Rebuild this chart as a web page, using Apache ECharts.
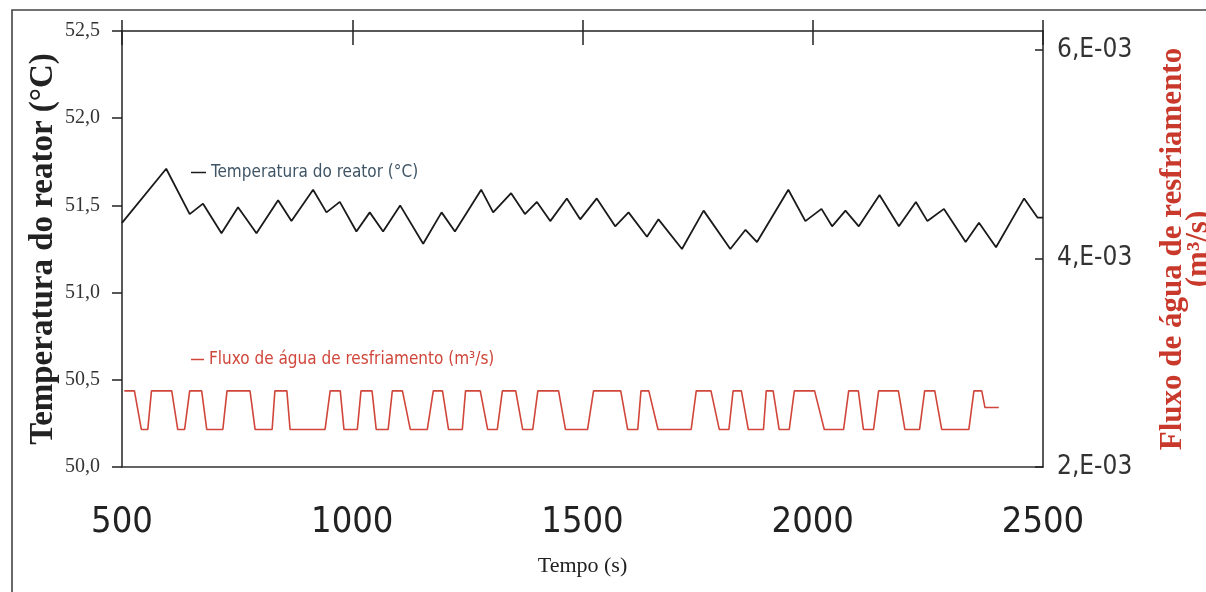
<!DOCTYPE html>
<html>
<head>
<meta charset="utf-8">
<title>Temperatura do reator</title>
<script src="https://cdn.jsdelivr.net/npm/echarts@6/dist/echarts.min.js"></script>
<style>
    html, body { margin: 0; padding: 0; background: #fff; }
    #chart { width: 1206px; height: 592px; }
</style>
</head>
<body>
<div id="chart"></div>
<script>
// temperatura do reator: tempo (s) e valor (°C), picos e vales
var tempTime = [500, 596, 647, 676, 716, 752, 792, 839, 868, 915, 944, 973, 1009, 1038, 1067, 1104,
    1154, 1194, 1223, 1280, 1306, 1345, 1375, 1401, 1430, 1466, 1495, 1531, 1571, 1600, 1640, 1665,
    1716, 1763, 1821, 1854, 1879, 1947, 1984, 2019, 2042, 2071, 2100, 2145, 2187, 2224, 2249, 2285,
    2332, 2361, 2398, 2459, 2488, 2500];
var tempValue = [51.40, 51.71, 51.45, 51.51, 51.34, 51.49, 51.34, 51.53, 51.41, 51.59, 51.46, 51.52, 51.35, 51.46, 51.35, 51.50,
    51.28, 51.46, 51.35, 51.59, 51.46, 51.57, 51.45, 51.52, 51.41, 51.54, 51.42, 51.54, 51.38, 51.46, 51.32, 51.42,
    51.25, 51.47, 51.25, 51.36, 51.29, 51.59, 51.41, 51.48, 51.38, 51.47, 51.38, 51.56, 51.38, 51.52, 51.41, 51.48,
    51.29, 51.40, 51.26, 51.54, 51.43, 51.43];

// fluxo de agua de resfriamento (m3/s)
var flowTime = [505, 527, 542, 556, 564, 608, 621, 636, 647, 673, 684, 719, 728, 778, 789, 826,
    832, 858, 865, 941, 952, 974, 982, 1011, 1019, 1043, 1052, 1078, 1087, 1109, 1126, 1163,
    1176, 1196, 1209, 1239, 1246, 1278, 1294, 1315, 1326, 1355, 1370, 1392, 1403, 1448, 1463, 1511,
    1524, 1583, 1598, 1620, 1627, 1644, 1664, 1736, 1747, 1779, 1797, 1818, 1827, 1845, 1860, 1893,
    1899, 1914, 1927, 1949, 1960, 2004, 2025, 2067, 2078, 2099, 2110, 2132, 2143, 2186, 2200, 2232,
    2243, 2265, 2280, 2339, 2350, 2367, 2374, 2404];
var flowValue = [0.00273, 0.00273, 0.00236, 0.00236, 0.00273, 0.00273, 0.00236, 0.00236, 0.00273, 0.00273, 0.00236, 0.00236, 0.00273, 0.00273, 0.00236, 0.00236,
    0.00273, 0.00273, 0.00236, 0.00236, 0.00273, 0.00273, 0.00236, 0.00236, 0.00273, 0.00273, 0.00236, 0.00236, 0.00273, 0.00273, 0.00236, 0.00236,
    0.00273, 0.00273, 0.00236, 0.00236, 0.00273, 0.00273, 0.00236, 0.00236, 0.00273, 0.00273, 0.00236, 0.00236, 0.00273, 0.00273, 0.00236, 0.00236,
    0.00273, 0.00273, 0.00236, 0.00236, 0.00273, 0.00273, 0.00236, 0.00236, 0.00273, 0.00273, 0.00236, 0.00236, 0.00273, 0.00273, 0.00236, 0.00236,
    0.00273, 0.00273, 0.00236, 0.00236, 0.00273, 0.00273, 0.00236, 0.00236, 0.00273, 0.00273, 0.00236, 0.00236, 0.00273, 0.00273, 0.00236, 0.00236,
    0.00273, 0.00273, 0.00236, 0.00236, 0.00273, 0.00273, 0.00257, 0.00257];

var xTicks = [500, 1000, 1500, 2000, 2500];
var leftTicks = [50.0, 50.5, 51.0, 51.5, 52.0, 52.5];
var rightTicks = [0.002, 0.004, 0.006];

var tempName = 'Temperatura do reator (°C)';
var flowName = 'Fluxo de água de resfriamento (m³/s)';

var narrow = "'Liberation Sans Narrow', 'Arial Narrow', 'DejaVu Sans Condensed', 'Liberation Sans', sans-serif";
var serif = "'Liberation Serif', 'DejaVu Serif', serif";

function pairs(xs, ys) {
    var out = [];
    for (var i = 0; i < xs.length; i++) {
        out.push([xs[i], ys[i]]);
    }
    return out;
}

var myChart = echarts.init(document.getElementById('chart'));

var option = {
    animation: false,
    backgroundColor: '#fff',
    grid: { left: 122, right: 163, top: 31, bottom: 125, outerBoundsMode: 'none', containLabel: false },
    graphic: [{
        // moldura externa da figura
        type: 'rect',
        silent: true,
        shape: { x: 12, y: 10, width: 1400, height: 800 },
        style: { fill: 'none', stroke: '#444', lineWidth: 1.6 }
    }],
    legend: [{
        data: [tempName],
        left: 186, top: 159,
        icon: 'rect', itemWidth: 15, itemHeight: 1.5,
        selectedMode: false,
        textStyle: { fontFamily: narrow, fontSize: 17, color: '#3f5566' }
    }, {
        data: [flowName],
        left: 186, top: 346,
        icon: 'rect', itemWidth: 13, itemHeight: 1.5,
        selectedMode: false,
        textStyle: { fontFamily: narrow, fontSize: 17, color: '#d0463a' }
    }],
    xAxis: [{
        type: 'value',
        position: 'bottom',
        min: xTicks[0], max: xTicks[xTicks.length - 1], interval: 500,
        axisLine: { lineStyle: { color: '#333', width: 1.5 } },
        axisTick: { show: false },
        splitLine: { show: false },
        axisLabel: {
            margin: 38, fontFamily: narrow, fontSize: 36, color: '#222',
            formatter: function (v) { return String(v); }
        },
        name: 'Tempo (s)',
        nameLocation: 'middle',
        nameGap: 88,
        nameMoveOverlap: false,
        nameTextStyle: { fontFamily: serif, fontSize: 22, color: '#222' }
    }, {
        type: 'value',
        position: 'top',
        min: xTicks[0], max: xTicks[xTicks.length - 1], interval: 500,
        axisLine: { lineStyle: { color: '#222', width: 1.5 } },
        axisTick: { length: 11, lineStyle: { color: '#222', width: 1.5 } },
        axisLabel: { show: false },
        splitLine: { show: false }
    }, {
        type: 'value',
        position: 'top',
        min: xTicks[0], max: xTicks[xTicks.length - 1], interval: 500,
        axisLine: { show: false },
        axisTick: { inside: true, length: 14, lineStyle: { color: '#222', width: 1.5 } },
        axisLabel: { show: false },
        splitLine: { show: false }
    }],
    yAxis: [{
        type: 'value',
        position: 'left',
        min: leftTicks[0], max: leftTicks[leftTicks.length - 1], interval: 0.5,
        axisLine: { show: true, lineStyle: { color: '#222', width: 1.5 } },
        axisTick: { show: true, length: 10, lineStyle: { color: '#222', width: 1.5 } },
        splitLine: { show: false },
        axisLabel: {
            margin: 22, fontFamily: serif, fontSize: 20, color: '#333',
            formatter: function (v) { return v.toFixed(1).replace('.', ','); }
        },
        name: 'Temperatura do reator (°C)',
        nameLocation: 'middle',
        nameRotate: 90,
        nameGap: 62,
        nameMoveOverlap: false,
        nameTextStyle: { fontFamily: serif, fontSize: 33, fontWeight: 'bold', color: '#222' }
    }, {
        type: 'value',
        position: 'right',
        min: rightTicks[0], max: 0.00618,
        axisLine: { show: true, lineStyle: { color: '#222', width: 1.5 } },
        axisTick: { show: true, inside: true, length: 8, customValues: rightTicks, lineStyle: { color: '#222', width: 1.5 } },
        splitLine: { show: false },
        axisLabel: {
            margin: 14, fontFamily: narrow, fontSize: 26, color: '#333',
            customValues: rightTicks,
            formatter: function (v) { return Math.round(v * 1000) + ',E-03'; }
        },
        name: 'Fluxo de água de resfriamento\n(m³/s)',
        nameLocation: 'middle',
        nameRotate: 90,
        nameGap: 117,
        nameMoveOverlap: false,
        nameTextStyle: { fontFamily: serif, fontSize: 31, fontWeight: 'bold', color: '#c8392b', lineHeight: 26, align: 'center' }
    }],
    series: [{
        name: tempName,
        type: 'line',
        xAxisIndex: 0, yAxisIndex: 0,
        showSymbol: false,
        color: '#1a1a1a',
        lineStyle: { color: '#1a1a1a', width: 1.8 },
        data: pairs(tempTime, tempValue)
    }, {
        name: flowName,
        type: 'line',
        xAxisIndex: 0, yAxisIndex: 1,
        showSymbol: false,
        color: '#d0463a',
        lineStyle: { color: '#d0463a', width: 1.6 },
        data: pairs(flowTime, flowValue)
    }]
};

myChart.setOption(option);
</script>
</body>
</html>
